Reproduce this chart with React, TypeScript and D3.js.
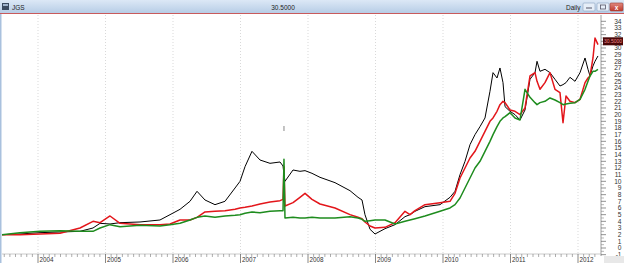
import React from "react";
import * as d3 from "d3";

// decimal-year sample points
const dates = [
  2003.467, 2003.733, 2004.03, 2004.326, 2004.622, 2004.815, 2004.919, 2005.067, 2005.215, 2005.511,
  2005.807, 2005.956, 2006.104, 2006.252, 2006.356, 2006.474, 2006.622, 2006.77, 2006.919, 2006.993,
  2007.067, 2007.17, 2007.289, 2007.437, 2007.585, 2007.63, 2007.644, 2007.659, 2007.778, 2007.881,
  2007.956, 2008.059, 2008.178, 2008.4, 2008.622, 2008.741, 2008.8, 2008.844, 2008.919, 2008.993,
  2009.141, 2009.289, 2009.437, 2009.511, 2009.585, 2009.733, 2009.956, 2010.104, 2010.178, 2010.252,
  2010.326, 2010.4, 2010.474, 2010.548, 2010.622, 2010.696, 2010.741, 2010.8, 2010.844, 2010.889,
  2010.919, 2010.993, 2011.067, 2011.141, 2011.215, 2011.289, 2011.363, 2011.393, 2011.437, 2011.511,
  2011.585, 2011.659, 2011.733, 2011.778, 2011.822, 2011.881, 2011.956, 2012.03, 2012.104, 2012.148,
  2012.178, 2012.222, 2012.252, 2012.296,
];

const blackSeries = [
  2.0, 2.1, 2.3, 2.4, 2.5, 3.0, 3.7, 3.6, 3.8, 3.9,
  4.2, 5.0, 5.8, 7.0, 8.5, 7.2, 6.5, 7.0, 9.0, 10.0,
  12.2, 14.5, 13.2, 12.7, 12.9, 12.3, 11.0, 10.0, 11.7, 11.5,
  11.6, 11.2, 10.6, 9.8, 8.6, 7.6, 7.2, 5.0, 2.8, 2.1,
  2.9, 3.5, 4.7, 5.0, 5.5, 6.2, 6.5, 7.6, 8.5, 11.0,
  13.0, 15.5, 17.0, 18.2, 19.5, 23.5, 26.3, 25.5, 27.0, 24.8,
  21.2, 20.5, 20.0, 19.2, 20.7, 25.3, 26.3, 28.0, 26.5, 26.8,
  26.3, 25.3, 24.3, 24.5, 24.8, 25.6, 25.0, 26.3, 28.5, 26.8,
  25.8, 27.3, 28.0, 28.8,
];

const redSeries = [
  2.0, 2.0, 2.1, 2.2, 3.0, 4.0, 3.8, 4.8, 3.7, 3.5,
  3.5, 3.6, 4.2, 4.2, 4.6, 5.4, 5.5, 5.6, 5.8, 6.0,
  6.1, 6.3, 6.6, 6.9, 7.1, 7.3, 12.2, 6.3, 6.8, 7.6,
  8.2, 7.3, 6.6, 6.0, 5.0, 4.6, 4.4, 3.9, 3.3, 3.0,
  3.1, 3.8, 5.5, 5.0, 5.6, 6.5, 6.8, 7.0, 8.2, 10.5,
  12.0, 13.5, 14.5, 16.0, 17.5, 19.0, 19.5, 20.5, 21.5, 22.0,
  21.8, 20.7, 20.5, 20.0, 21.0, 25.8, 26.3, 25.0, 23.8, 24.8,
  26.3, 23.8, 23.3, 18.8, 22.8, 22.0, 21.8, 22.3, 24.8, 25.5,
  25.8, 28.5, 31.5, 30.5,
];

const greenSeries = [
  2.0, 2.3, 2.5, 2.6, 2.5, 2.5, 3.0, 3.5, 3.2, 3.4,
  3.3, 3.5, 3.7, 4.2, 4.6, 4.8, 4.6, 4.8, 4.9, 5.0,
  5.2, 5.4, 5.3, 5.5, 5.6, 5.6, 13.3, 4.5, 4.6, 4.5,
  4.5, 4.6, 4.5, 4.5, 4.7, 4.5, 4.3, 4.0, 4.1, 4.2,
  4.2, 3.6, 4.0, 4.2, 4.4, 4.8, 5.5, 6.0, 6.5, 7.5,
  9.0, 10.5, 12.0, 13.0, 14.5, 16.0, 17.0, 18.2, 19.0, 19.5,
  19.7, 20.3, 19.5, 19.2, 23.8, 22.6, 21.8, 21.5, 21.8, 22.0,
  22.5, 22.2, 21.8, 21.5, 21.6, 21.7, 21.8, 22.3, 23.8, 25.0,
  25.8, 26.5, 26.5, 26.8,
];

const yearLabels = ["2004", "2005", "2006", "2007", "2008", "2009", "2010", "2011", "2012"];
const priceTicks = d3.range(-1, 35);
const hiddenPriceLabels = [31]; // covered by the last-price box
const lastPrice = "30.5000";
const titleSymbol = "JGS";
const periodLabel = "Daily";

const W = 624;
const H = 263;
const plotLeft = 2;
const plotRight = 601;
const plotTop = 15;
const plotBottom = 254;

export default function App() {
  const x = d3.scaleLinear().domain([2004, 2012]).range([38, 578]);
  const y = d3.scaleLinear().domain([0, 34]).range([248, 21.3]);

  const mkLine = (vals: number[]) =>
    d3
      .line<number>()
      .x((_, i) => x(dates[i]))
      .y((v) => y(v))(vals) as string;

  const monthTicks: number[] = [];
  for (let yr = 2003; yr <= 2012; yr++) {
    for (let m = 1; m < 12; m++) {
      const px = x(yr + m / 12);
      if (px > plotLeft + 1 && px < plotRight - 1) monthTicks.push(px);
    }
  }
  const halfTicks = d3.range(-1, 34).map((v) => v + 0.5);
  const font = "'Liberation Sans', Arial, sans-serif";
  const priceY = y(31);

  return (
    <svg
      width={W}
      height={H}
      style={{ position: "fixed", left: 0, top: 0, background: "#fff" }}
      fontFamily={font}
    >
      <defs>
        <linearGradient id="tb" x1="0" y1="0" x2="0" y2="1">
          <stop offset="0" stopColor="#dce8f6" />
          <stop offset="1" stopColor="#b7cde6" />
        </linearGradient>
        <linearGradient id="cls" x1="0" y1="0" x2="0" y2="1">
          <stop offset="0" stopColor="#e08a80" />
          <stop offset="1" stopColor="#c0392b" />
        </linearGradient>
      </defs>
      <rect x={0} y={0} width={W} height={H} fill="#fff" />
      {/* title bar */}
      <rect x={0} y={0} width={W} height={13} fill="url(#tb)" />
      <line x1={0} x2={W} y1={13.5} y2={13.5} stroke="#c85a5c" strokeWidth={1} />
      <rect x={2} y={3} width={7} height={7} fill="#3a4a60" />
      <rect x={3} y={4} width={5} height={2} fill="#9fb3cc" />
      <text x={12} y={9.5} fontSize={6.5} fill="#222">{titleSymbol}</text>
      <text x={283} y={9.5} fontSize={6.5} fill="#222" textAnchor="middle">{lastPrice}</text>
      <text x={566} y={9.5} fontSize={6.5} fill="#222">{periodLabel}</text>
      <rect x={583} y={3} width={12} height={8} fill="#e6eef8" stroke="#8aa2c0" strokeWidth={0.6} rx={1} />
      <line x1={586} x2={592} y1={8} y2={8} stroke="#556" strokeWidth={1} />
      <rect x={597} y={3} width={12} height={8} fill="#e6eef8" stroke="#8aa2c0" strokeWidth={0.6} rx={1} />
      <rect x={600.5} y={5} width={5} height={4} fill="none" stroke="#556" strokeWidth={0.8} />
      <rect x={610} y={3} width={13} height={8} fill="url(#cls)" stroke="#9a3a30" strokeWidth={0.6} rx={1} />
      <text x={616.5} y={9.5} fontSize={6.5} fill="#fff" textAnchor="middle" fontWeight="bold">x</text>

      {/* left frame */}
      <rect x={0} y={14} width={1.5} height={H - 14} fill="#a9c1de" />

      {/* year gridlines */}
      {yearLabels.map((lab, i) => (
        <line
          key={lab}
          x1={x(2004 + i)}
          x2={x(2004 + i)}
          y1={plotTop}
          y2={plotBottom}
          stroke="#cfcfcf"
          strokeWidth={0.8}
          strokeDasharray="1,2"
        />
      ))}

      {/* event marker */}
      <line x1={x(2007.644)} x2={x(2007.644)} y1={126} y2={131} stroke="#888" strokeWidth={1} />

      {/* series */}
      <path d={mkLine(blackSeries)} fill="none" stroke="#000" strokeWidth={1} strokeLinejoin="round" />
      <path d={mkLine(redSeries)} fill="none" stroke="#e3161b" strokeWidth={1.5} strokeLinejoin="round" />
      <path d={mkLine(greenSeries)} fill="none" stroke="#1e8c1e" strokeWidth={1.5} strokeLinejoin="round" />

      {/* right axis */}
      <line x1={plotRight} x2={plotRight} y1={plotTop} y2={plotBottom + 2} stroke="#888" strokeWidth={0.8} />
      {priceTicks.map((v) => (
        <g key={v}>
          <line x1={plotRight} x2={plotRight + 5} y1={y(v)} y2={y(v)} stroke="#666" strokeWidth={0.7} />
          {hiddenPriceLabels.includes(v) ? null : (
            <text x={621.5} y={y(v) + 2.3} fontSize={6.6} fill="#333" textAnchor="end">
              {v}
            </text>
          )}
        </g>
      ))}
      {halfTicks.map((v) => (
        <line key={"h" + v} x1={plotRight} x2={plotRight + 3} y1={y(v)} y2={y(v)} stroke="#888" strokeWidth={0.6} />
      ))}
      <rect x={603} y={priceY - 4} width={20} height={8} fill="#4a0808" />
      <text x={613} y={priceY + 1.8} fontSize={5} fill="#e88" textAnchor="middle">{lastPrice}</text>

      {/* bottom axis */}
      <line x1={plotLeft} x2={plotRight} y1={plotBottom} y2={plotBottom} stroke="#aaa" strokeWidth={0.6} />
      {monthTicks.map((px, i) => (
        <line key={"m" + i} x1={px} x2={px} y1={plotBottom} y2={plotBottom + 3} stroke="#777" strokeWidth={0.6} />
      ))}
      {yearLabels.map((lab, i) => (
        <g key={"y" + lab}>
          <line x1={x(2004 + i)} x2={x(2004 + i)} y1={plotBottom} y2={H} stroke="#555" strokeWidth={0.7} />
          <text x={x(2004 + i) + 1.5} y={261.5} fontSize={6.3} fill="#333">{lab}</text>
        </g>
      ))}
      <rect x={604} y={256} width={20} height={7} fill="#e8e8e8" />
    </svg>
  );
}
